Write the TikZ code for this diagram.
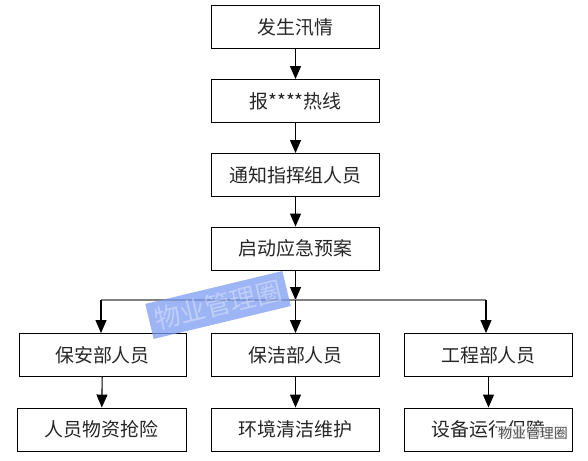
\documentclass[tikz,border=0pt]{standalone}
\usepackage{fontspec}
\setmainfont{Noto Sans CJK SC}
\usepackage{tikz}
\usetikzlibrary{arrows.meta,positioning}
\definecolor{wmBlue}{HTML}{7D9CF2}
\definecolor{lineGray}{HTML}{808080}
\begin{document}
\begin{tikzpicture}[x=1bp,y=-1bp,font=\fontsize{19}{21}\selectfont,>={Triangle[width=11bp,length=13bp]},
  box/.style={draw,line width=0.9bp,minimum width=168bp,minimum height=43bp,inner sep=0pt,text=black!85}]
\useasboundingbox (0,0) rectangle (588,461);
% main chain
\node[box] (flood) at (295.5,27) {发生汛情};
\node[box] (hotline) at (295.5,101) {报****热线};
\node[box] (notify) at (295.5,175) {通知指挥组人员};
\node[box] (plan) at (295.5,248.5) {启动应急预案};
\coordinate (split) at (295.5,300);
\coordinate (splitL) at (101,300);
\coordinate (splitR) at (486,300);
% departments
\node[box,minimum width=167bp] (security) at (102.5,355) {保安部人员};
\node[box] (cleaning) at (295.5,355) {保洁部人员};
\node[box] (engineer) at (488.5,355) {工程部人员};
\node[box,minimum width=169bp] (rescue) at (101.5,429.5) {人员物资抢险};
\node[box] (clean) at (295.5,429.5) {环境清洁维护};
\node[box] (repair) at (488.5,429.5) {设备运行保障};
\draw[->,line width=1.1bp] (flood) -- (hotline);
\draw[->,line width=1.1bp] (hotline) -- (notify);
\draw[->,line width=1.1bp] (notify) -- (plan);
\draw[->,line width=1.1bp] (plan) -- (split);
\draw[lineGray,line width=1.6bp] (splitL) -- (splitR);
\draw[->,line width=1.1bp] (split) -- (cleaning);
\draw[->,line width=1.1bp] (splitL) -- (splitL|-security.north);
\draw[->,line width=1.1bp] (splitR) -- (splitR|-engineer.north);
\draw[->,line width=1.1bp] (security) -- (rescue);
\draw[->,line width=1.1bp] (cleaning) -- (clean);
\draw[->,line width=1.1bp] (engineer) -- (repair);
% watermarks
\node[fill=wmBlue,fill opacity=0.75,text=white,text opacity=0.35,rotate=13.5,minimum width=141bp,minimum height=36bp,
  font=\fontsize{26}{28}\selectfont] (mark) at (218,305) {物业管理圈};
\node[fill=white,fill opacity=0.75,text=black!70,text opacity=1,inner sep=1bp,
  font=\fontsize{14}{16}\selectfont] (logo) at (533,433) {物业管理圈};
\end{tikzpicture}
\end{document}
